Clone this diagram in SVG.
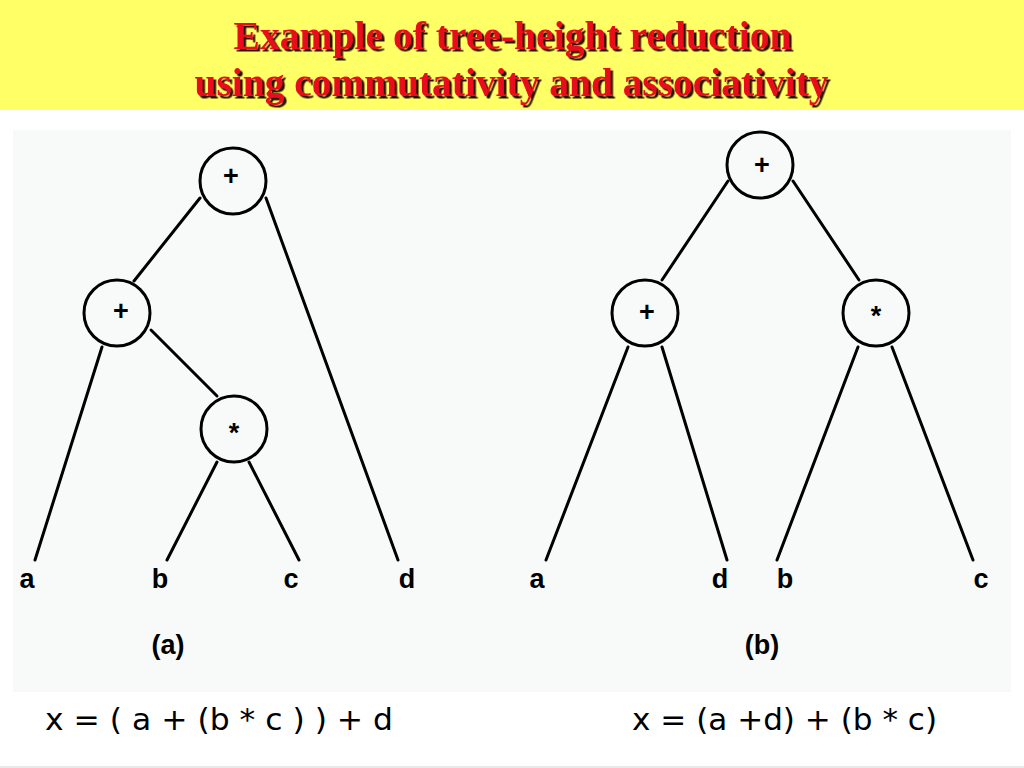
<svg xmlns="http://www.w3.org/2000/svg" width="1024" height="768" viewBox="0 0 1024 768">
<defs>
<filter id="shadow" x="-5%" y="-20%" width="110%" height="150%">
<feDropShadow dx="2.5" dy="2.5" stdDeviation="0.6" flood-color="#2a0800" flood-opacity="1"/>
</filter>
<style>
.title{font-family:"Liberation Serif","Times New Roman",serif;font-weight:bold;font-size:41px;text-anchor:middle;fill:#E8101A;filter:url(#shadow)}
.node circle{fill:none;stroke:#000;stroke-width:3}
.op{font-family:"Liberation Sans",Arial,sans-serif;font-weight:bold;font-size:27px;text-anchor:middle;fill:#000}
.leaf{font-family:"Liberation Sans",Arial,sans-serif;font-weight:bold;font-size:27px;text-anchor:middle;fill:#000}
.edges line{stroke:#000;stroke-width:3;stroke-linecap:round}
.formula{font-family:"DejaVu Sans","Noto Sans",sans-serif;font-size:30px;fill:#000}
</style>
</defs>
<rect x="0" y="0" width="1024" height="768" fill="#FFFFFF"/>
<rect x="0" y="0" width="1024" height="110" fill="#FFFF66"/>
<g id="title">
<text class="title" x="512.5" y="49" textLength="558" lengthAdjust="spacingAndGlyphs">Example of tree-height reduction</text>
<text class="title" x="511.5" y="96" textLength="634" lengthAdjust="spacingAndGlyphs">using commutativity and associativity</text>
</g>
<rect x="13" y="130" width="998" height="562" fill="#F7FAF8"/>
<line x1="0" y1="767" x2="1024" y2="767" stroke="#E2E2E2" stroke-width="1.5"/>
<g class="edges" id="connectors">
<line x1="200" y1="198" x2="134" y2="281"/>
<line x1="266" y1="198" x2="398" y2="560"/>
<line x1="102" y1="347" x2="35" y2="560"/>
<line x1="151" y1="330" x2="217" y2="396"/>
<line x1="217" y1="462" x2="167" y2="560"/>
<line x1="249" y1="462" x2="299" y2="560"/>
<line x1="728" y1="181" x2="662" y2="280"/>
<line x1="793" y1="181" x2="859" y2="280"/>
<line x1="628" y1="347" x2="546" y2="560"/>
<line x1="662" y1="347" x2="727" y2="560"/>
<line x1="858" y1="347" x2="777" y2="560"/>
<line x1="892" y1="347" x2="973" y2="560"/>
</g>
<g id="a-root" class="node"><circle cx="233" cy="181" r="33"/><text class="op" x="231" y="185">+</text></g>
<g id="a-plus" class="node"><circle cx="117" cy="313" r="33"/><text class="op" x="121" y="320">+</text></g>
<g id="a-mul" class="node"><circle cx="234" cy="429" r="33"/><text class="op" x="234" y="442">*</text></g>
<g id="a-a"><text class="leaf" x="27" y="588">a</text></g>
<g id="a-b"><text class="leaf" x="160" y="588">b</text></g>
<g id="a-c"><text class="leaf" x="291" y="588">c</text></g>
<g id="a-d"><text class="leaf" x="407" y="588">d</text></g>
<g id="a-label"><text class="leaf" x="168" y="654">(a)</text></g>
<g id="b-root" class="node"><circle cx="760" cy="165" r="33"/><text class="op" x="762" y="174">+</text></g>
<g id="b-plus" class="node"><circle cx="645" cy="313" r="33"/><text class="op" x="647" y="321">+</text></g>
<g id="b-mul" class="node"><circle cx="876" cy="313" r="33"/><text class="op" x="876" y="325">*</text></g>
<g id="b-a"><text class="leaf" x="537" y="588">a</text></g>
<g id="b-d"><text class="leaf" x="720" y="588">d</text></g>
<g id="b-b"><text class="leaf" x="785" y="588">b</text></g>
<g id="b-c"><text class="leaf" x="981" y="588">c</text></g>
<g id="b-label"><text class="leaf" x="762" y="654">(b)</text></g>
<g id="formulas">
<text class="formula" x="45" y="730" textLength="348" lengthAdjust="spacingAndGlyphs">x = ( a + (b * c ) ) + d</text>
<text class="formula" x="632" y="730" textLength="305" lengthAdjust="spacingAndGlyphs">x = (a +d) + (b * c)</text>
</g>
</svg>
